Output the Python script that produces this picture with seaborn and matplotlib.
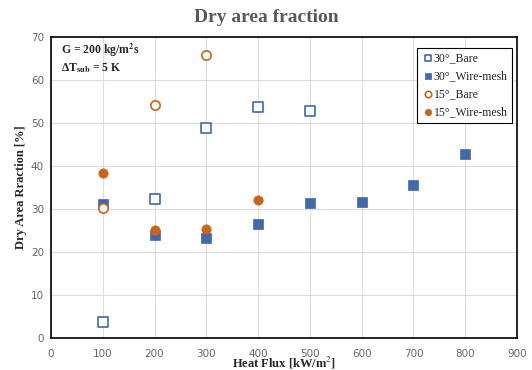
import pandas as pd
import seaborn as sns
import matplotlib.pyplot as plt

### datos ###
flux_30_bare = [100, 200, 300, 400, 500]
dry_30_bare = [3.8, 32.3, 48.8, 53.7, 52.8]

flux_30_mesh = [100, 200, 300, 400, 500, 600, 700, 800]
dry_30_mesh = [31.2, 23.9, 23.2, 26.6, 31.4, 31.6, 35.5, 42.7]

flux_15_bare = [100, 200, 300]
dry_15_bare = [30.2, 54.1, 65.8]

flux_15_mesh = [100, 200, 300, 400]
dry_15_mesh = [38.3, 25.1, 25.3, 32.2]

azul = '#4169AC'
naranja = '#C8651B'

sns.set_style('white')
plt.rcParams['font.family'] = ['Liberation Serif', 'DejaVu Serif']
plt.rcParams['mathtext.fontset'] = 'stix'

fig = plt.figure(figsize=(5.32, 3.7), dpi=100)
ax = fig.add_axes([51 / 532, 1 - 338 / 370, 466 / 532, 301 / 370])

sns.scatterplot(x=flux_30_bare, y=dry_30_bare, ax=ax, marker='s', s=45,
                facecolor='white', edgecolor=azul, linewidth=1.2, label='30°_Bare')
sns.scatterplot(x=flux_30_mesh, y=dry_30_mesh, ax=ax, marker='s', s=45,
                color=azul, edgecolor=azul, linewidth=0.5, label='30°_Wire-mesh')
sns.scatterplot(x=flux_15_bare, y=dry_15_bare, ax=ax, marker='o', s=45,
                facecolor='white', edgecolor=naranja, linewidth=1.2, label='15°_Bare')
sns.scatterplot(x=flux_15_mesh, y=dry_15_mesh, ax=ax, marker='o', s=45,
                color=naranja, edgecolor=naranja, linewidth=0.5, label='15°_Wire-mesh')

ax.set_xlim(0, 900)
ax.set_ylim(0, 70)
ax.set_xticks(range(0, 1000, 100))
ax.set_yticks(range(0, 80, 10))
ax.grid(True, color='#DDDDDD', linewidth=0.8)
ax.set_axisbelow(True)
for s in ax.spines.values():
    s.set_color('black')
    s.set_linewidth(1.2)
ax.tick_params(axis='both', length=0, labelcolor='#666666')
ax.tick_params(axis='x', pad=8)
ax.tick_params(axis='y', pad=5)
for lab in ax.get_xticklabels() + ax.get_yticklabels():
    lab.set_family('DejaVu Sans')
    lab.set_fontsize(7.5)

ax.set_xlabel('Heat Flux [kW/m$^2$]', fontsize=9, fontweight='bold', labelpad=-3)
ax.set_ylabel('Dry Area Rraction [%]', fontsize=9, fontweight='bold', labelpad=3)
fig.suptitle('Dry area fraction', x=0.5, y=0.975, fontsize=14, fontweight='bold',
             color='#595959')

ax.text(0.022, 0.985, 'G = 200 kg/m$^\\mathbf{2}$s', transform=ax.transAxes,
        fontsize=8.5, fontweight='bold', va='top')
ax.text(0.022, 0.92, 'ΔT$_{\\mathbf{sub}}$ = 5 K', transform=ax.transAxes,
        fontsize=8.5, fontweight='bold', va='top')

leg = ax.legend(loc='upper right', bbox_to_anchor=(0.99, 0.965), fontsize=8.5,
                frameon=True, fancybox=False, edgecolor='black', framealpha=1,
                handletextpad=0.0, handlelength=1.0, borderpad=0.4,
                labelspacing=0.5, markerscale=0.7, borderaxespad=0)
leg.get_frame().set_linewidth(0.8)

fig.savefig('out.png', dpi=100)
